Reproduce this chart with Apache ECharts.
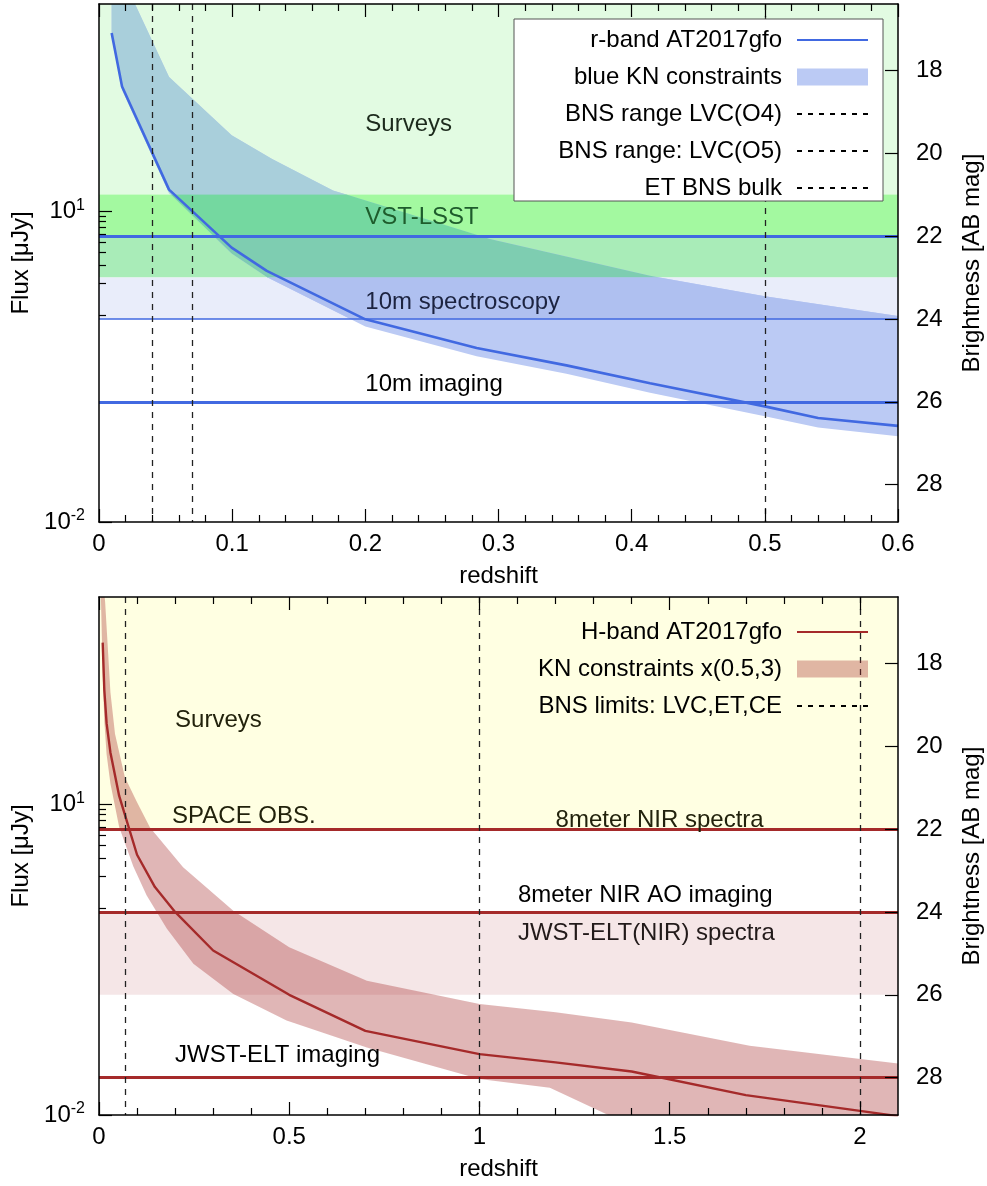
<!DOCTYPE html>
<html><head><meta charset="utf-8">
<script src="https://cdn.jsdelivr.net/npm/echarts@6/dist/echarts.min.js"></script>
<style>html,body{margin:0;padding:0;background:#fff}#c{width:987px;height:1186px}</style>
</head><body><div id="c"></div>
<script>
// ================= DATA =================
// shared axis data
const magRange = [16.4, 28.9];               // AB magnitude range of both panels (top -> bottom)
const logFluxRange = [-2, 3];                // log10(flux / uJy), same span
const magTicks = [18, 20, 22, 24, 26, 28];
const fluxLabelTicks = [0.01, 10];           // labelled flux ticks (uJy)
const fluxMinorTicks = [1, 2, 3, 4, 5, 6, 7, 8, 9];

// top panel
const topXRange = [0, 0.6];
const topXTicks = [0, 0.1, 0.2, 0.3, 0.4, 0.5, 0.6];
const topXMinor = [0.02, 0.04, 0.06, 0.08, 0.12, 0.14, 0.16, 0.18, 0.22, 0.24, 0.26, 0.28, 0.32, 0.34, 0.36, 0.38, 0.42, 0.44, 0.46, 0.48, 0.52, 0.54, 0.56, 0.58];
const rbandZ   = [0.0095, 0.0173, 0.0526, 0.0996, 0.126, 0.2, 0.2836, 0.351, 0.4138, 0.5, 0.54, 0.6];
const rbandMag = [17.1, 18.39, 20.88, 22.28, 22.84, 24.01, 24.70, 25.12, 25.55, 26.11, 26.39, 26.58];
const blueKnUpperZ   = [0.0095, 0.0173, 0.0526, 0.0996, 0.13, 0.1757, 0.2936, 0.4138, 0.5, 0.6];
const blueKnUpperMag = [14.4, 15.73, 18.16, 19.57, 20.14, 20.9, 22.07, 22.96, 23.45, 23.93];
const blueKnLowerZ   = [0.0095, 0.0173, 0.0526, 0.0996, 0.126, 0.2, 0.2836, 0.351, 0.4138, 0.5, 0.54, 0.6];
const blueKnLowerMag = [17.17, 18.47, 20.96, 22.42, 22.99, 24.18, 24.9, 25.32, 25.78, 26.35, 26.62, 26.83];
const topBnsNames = ['BNS range LVC(O4)', 'BNS range: LVC(O5)', 'ET BNS bulk'];
const topBnsZ = [0.04, 0.07, 0.5];
const topLimitMags = [22, 24, 26];
const topBandFrom = [16.4, 21, 22, 23];
const topBandTo   = [21, 22, 23, 24];
const topLabelText = ['Surveys', 'VST-LSST', '10m spectroscopy', '10m imaging'];
const topLabelZ    = [0.2, 0.2, 0.2, 0.2];
const topLabelMag  = [19.31, 21.55, 23.61, 25.58];

// bottom panel
const botXRange = [0, 2.1];
const botXTicks = [0, 0.5, 1, 1.5, 2];
const botXMinor = [0.1, 0.2, 0.3, 0.4, 0.6, 0.7, 0.8, 0.9, 1.1, 1.2, 1.3, 1.4, 1.6, 1.7, 1.8, 1.9];
const hbandZ   = [0.0097, 0.014, 0.02, 0.03, 0.053, 0.1, 0.147, 0.2, 0.3, 0.5, 0.7, 1.0, 1.2, 1.4, 1.7, 2.0, 2.1];
const hbandMag = [17.5, 18.65, 19.45, 20.15, 21.2, 22.62, 23.4, 24.0, 24.93, 26.0, 26.87, 27.43, 27.63, 27.85, 28.42, 28.8, 28.93];
const knUpperZ   = [0.005, 0.016, 0.03, 0.042, 0.068, 0.1, 0.134, 0.221, 0.353, 0.5, 0.704, 1.0, 1.2, 1.4, 1.71, 2.1];
const knUpperMag = [15.5, 16.5, 18.7, 19.7, 20.75, 21.35, 21.96, 22.92, 23.97, 24.85, 25.66, 26.22, 26.42, 26.67, 27.23, 27.66];
const knLowerZ   = [0.005, 0.0097, 0.014, 0.02, 0.03, 0.053, 0.09, 0.125, 0.178, 0.248, 0.353, 0.493, 0.704, 1.0, 1.185, 1.35, 1.7, 2.1];
const knLowerMag = [16.4, 18.25, 19.4, 20.2, 20.9, 21.95, 22.9, 23.6, 24.4, 25.25, 25.98, 26.62, 27.27, 28.03, 28.24, 28.95, 29.3, 29.6];
const botBnsName = 'BNS limits: LVC,ET,CE';
const botBnsZ = [0.07, 1, 2];
const botLimitMags = [22, 24, 28];
const botBandFrom = [16.4, 24];
const botBandTo   = [22, 26];
const botLabelText = ['Surveys', 'SPACE OBS.', '8meter NIR spectra', '8meter NIR AO imaging', 'JWST-ELT(NIR) spectra', 'JWST-ELT imaging'];
const botLabelZ    = [0.2, 0.192, 1.2, 1.101, 1.101, 0.2];
const botLabelMag  = [19.38, 21.69, 21.79, 23.6, 24.52, 27.47];

// ================= STYLE / BUILD =================
const FONT = '"Liberation Sans", Arial, Helvetica, sans-serif';
const FS = 24;

function zip(a, b) { return a.map((v, i) => [v, b[i]]); }

// clip a pixel polygon to the horizontal strip y0 <= y <= y1
function clipStrip(pts, y0, y1) {
  function clipEdge(poly, inside, inter) {
    const out = [];
    for (let i = 0; i < poly.length; i++) {
      const a = poly[i], b = poly[(i + 1) % poly.length];
      const ia = inside(a), ib = inside(b);
      if (ia) out.push(a);
      if (ia !== ib) out.push(inter(a, b));
    }
    return out;
  }
  const cut = y => (a, b) => { const t = (y - a[1]) / (b[1] - a[1]); return [a[0] + t * (b[0] - a[0]), y]; };
  let r = clipEdge(pts, p => p[1] >= y0, cut(y0));
  if (r.length) r = clipEdge(r, p => p[1] <= y1, cut(y1));
  return r;
}

function panel(p) {
  const gi = p.gi, xb = gi * 4, yb = gi * 3;
  const axisLine = { show: true, onZero: false, lineStyle: { color: '#000', width: 1.5 } };
  const noLine = { show: false, onZero: false };
  const tickStyle = { color: '#000', width: 1.2 };
  const AZ = 10;
  const xAxes = [
    { gridIndex: gi, z: AZ, type: 'value', min: p.xRange[0], max: p.xRange[1], position: 'bottom',
      axisLine, splitLine: { show: false },
      axisTick: { inside: true, length: 13, customValues: p.xTicks, lineStyle: tickStyle },
      axisLabel: { customValues: p.xTicks, fontSize: FS, fontFamily: FONT, color: '#000', margin: 10, formatter: v => String(v) },
      name: 'redshift', nameLocation: 'middle', nameGap: 42,
      nameTextStyle: { fontSize: FS, fontFamily: FONT, color: '#000' } },
    { gridIndex: gi, z: AZ, type: 'value', min: p.xRange[0], max: p.xRange[1], position: 'bottom',
      axisLine: noLine, splitLine: { show: false }, axisLabel: { show: false },
      axisTick: { inside: true, length: 7, customValues: p.xMinor, lineStyle: tickStyle } },
    { gridIndex: gi, z: AZ, type: 'value', min: p.xRange[0], max: p.xRange[1], position: 'top',
      axisLine, splitLine: { show: false }, axisLabel: { show: false },
      axisTick: { inside: true, length: 13, customValues: p.xTicks, lineStyle: tickStyle } },
    { gridIndex: gi, z: AZ, type: 'value', min: p.xRange[0], max: p.xRange[1], position: 'top',
      axisLine: noLine, splitLine: { show: false }, axisLabel: { show: false },
      axisTick: { inside: true, length: 7, customValues: p.xMinor, lineStyle: tickStyle } }
  ];
  const yAxes = [
    { gridIndex: gi, z: AZ, type: 'value', inverse: true, min: magRange[0], max: magRange[1], position: 'right',
      axisLine, splitLine: { show: false },
      axisTick: { inside: true, length: 13, customValues: magTicks, lineStyle: tickStyle },
      axisLabel: { customValues: magTicks, fontSize: FS, fontFamily: FONT, color: '#000', margin: 18 },
      name: 'Brightness [AB mag]', nameLocation: 'middle', nameRotate: 90, nameGap: 62,
      nameTextStyle: { fontSize: FS, fontFamily: FONT, color: '#000' } },
    { gridIndex: gi, z: AZ, type: 'value', min: logFluxRange[0], max: logFluxRange[1], position: 'left',
      axisLine, splitLine: { show: false },
      axisTick: { inside: true, length: 13, customValues: fluxLabelTicks.map(Math.log10), lineStyle: tickStyle },
      axisLabel: { customValues: fluxLabelTicks.map(Math.log10), margin: 14, color: '#000',
        formatter: v => '{b|10}{s|' + Math.round(v) + '}',
        rich: { b: { fontSize: FS, fontFamily: FONT, color: '#000', lineHeight: 28 },
                s: { fontSize: 16, fontFamily: FONT, color: '#000', lineHeight: 16, verticalAlign: 'top' } } },
      name: 'Flux [\u03bcJy]', nameLocation: 'middle', nameRotate: 90, nameGap: 58,
      nameTextStyle: { fontSize: FS, fontFamily: FONT, color: '#000' } },
    { gridIndex: gi, z: AZ, type: 'value', min: logFluxRange[0], max: logFluxRange[1], position: 'left',
      axisLine: noLine, splitLine: { show: false }, axisLabel: { show: false },
      axisTick: { inside: true, length: 7, customValues: fluxMinorTicks.map(Math.log10), lineStyle: tickStyle } }
  ];
  const X = xb, Y = yb;
  const series = [];
  // background bands
  series.push({ type: 'line', name: '_bands' + gi, xAxisIndex: X, yAxisIndex: Y, data: [], silent: true, z: 1,
    markArea: { silent: true,
      data: p.bandFrom.map((f, i) => [{ yAxis: f, itemStyle: { color: p.bandColors[i], opacity: 1 } }, { yAxis: p.bandTo[i] }]) } });
  // KN band polygon (tinted per background band where it overlaps)
  series.push({ type: 'custom', name: p.bandName, xAxisIndex: X, yAxisIndex: Y, coordinateSystem: 'cartesian2d',
    clip: true, silent: true, z: 2, itemStyle: { color: p.knColor },
    data: [[p.upZ[0], p.loMag[0]]],
    renderItem: (params, api) => {
      const pts = [];
      for (let i = 0; i < p.upZ.length; i++) pts.push(api.coord([p.upZ[i], p.upMag[i]]));
      for (let i = p.loZ.length - 1; i >= 0; i--) pts.push(api.coord([p.loZ[i], p.loMag[i]]));
      const children = [{ type: 'polygon', shape: { points: pts }, style: { fill: p.knColor } }];
      if (p.knOver) {
        p.bandFrom.forEach((f, i) => {
          if (!p.knOver[i]) return;
          const ya = api.coord([0, f])[1], yb2 = api.coord([0, p.bandTo[i]])[1];
          const sub = clipStrip(pts, Math.min(ya, yb2), Math.max(ya, yb2));
          if (sub.length > 2) children.push({ type: 'polygon', shape: { points: sub }, style: { fill: p.knOver[i] } });
        });
      }
      return { type: 'group', children };
    } });
  // horizontal limits
  series.push({ type: 'line', name: '_limits' + gi, xAxisIndex: X, yAxisIndex: Y, data: [], silent: true, z: 3,
    markLine: { silent: true, symbol: ['none', 'none'], label: { show: false }, emphasis: { disabled: true },
      data: p.limitMags.map((m, i) => ({ yAxis: m, lineStyle: { color: p.color, width: p.limitWidths[i], type: 'solid' } })) } });
  // curve
  series.push({ type: 'line', name: p.curveName, xAxisIndex: X, yAxisIndex: Y, data: zip(p.curveZ, p.curveMag),
    symbol: 'none', showSymbol: false, z: 4, lineStyle: { color: p.color, width: p.curveWidth }, itemStyle: { color: p.color } });
  // dashed BNS lines
  p.bns.forEach((b) => {
    series.push({ type: 'line', name: b.name, xAxisIndex: X, yAxisIndex: Y, data: [], symbol: 'none', z: 5,
      lineStyle: { color: '#000', width: 1, type: [5, 6] }, itemStyle: { color: '#000' },
      markLine: { silent: true, symbol: ['none', 'none'], label: { show: false }, emphasis: { disabled: true },
        lineStyle: { color: '#222', width: 1.3, type: [6, 6] },
        data: b.z.map(z => ({ xAxis: z })) } });
  });
  // annotations (text anchored in data coordinates)
  series.push({ type: 'custom', name: '_labels' + gi, xAxisIndex: X, yAxisIndex: Y, coordinateSystem: 'cartesian2d',
    silent: true, z: 6,
    data: p.labelText.map((t, i) => [p.labelZ[i], p.labelMag[i], i]),
    renderItem: (params, api) => {
      const i = api.value(2);
      const c = api.coord([api.value(0), api.value(1)]);
      return { type: 'text', x: c[0], y: c[1],
        style: { text: p.labelText[i], fill: p.labelColors[i], font: FS + 'px ' + FONT, align: 'left', verticalAlign: 'middle' } };
    } });
  return { xAxes, yAxes, series };
}

const P0 = panel({ gi: 0, xRange: topXRange, xTicks: topXTicks, xMinor: topXMinor,
  bandFrom: topBandFrom, bandTo: topBandTo, bandColors: ['#e2fbe2', '#a3f9a0', '#a9ecb8', '#e9edfa'],
  bandName: 'blue KN constraints', knColor: '#bbcaf4', knOver: ['#a9cfdb', '#74d8a0', '#7ecdb1', '#afc0f0'],
  upZ: blueKnUpperZ, upMag: blueKnUpperMag, loZ: blueKnLowerZ, loMag: blueKnLowerMag,
  limitMags: topLimitMags, limitWidths: [3, 1.5, 3], color: '#4169e1',
  curveName: 'r-band AT2017gfo', curveZ: rbandZ, curveMag: rbandMag, curveWidth: 2.6,
  bns: topBnsNames.map((n, i) => ({ name: n, z: [topBnsZ[i]] })),
  labelText: topLabelText, labelZ: topLabelZ, labelMag: topLabelMag,
  labelColors: ['#1c2a1c', '#1e5c2c', '#1c2340', '#000'] });

const P1 = panel({ gi: 1, xRange: botXRange, xTicks: botXTicks, xMinor: botXMinor,
  bandFrom: botBandFrom, bandTo: botBandTo, bandColors: ['#ffffe2', '#f5e6e7'],
  bandName: 'KN constraints x(0.5,3)', knColor: 'rgba(165,42,42,0.34)', knOver: null,
  upZ: knUpperZ, upMag: knUpperMag, loZ: knLowerZ, loMag: knLowerMag,
  limitMags: botLimitMags, limitWidths: [3, 3, 3], color: '#a52a2a',
  curveName: 'H-band AT2017gfo', curveZ: hbandZ, curveMag: hbandMag, curveWidth: 2.4,
  bns: [{ name: botBnsName, z: botBnsZ }],
  labelText: botLabelText, labelZ: botLabelZ, labelMag: botLabelMag,
  labelColors: ['#22220c', '#22220c', '#22220c', '#000', '#221a1a', '#000'] });

const legendBase = { orient: 'vertical', align: 'right', right: 118, padding: 0, itemWidth: 71, itemHeight: 17,
  itemGap: 9, z: 60, selectedMode: false,
  textStyle: { fontSize: FS, fontFamily: FONT, color: '#000', lineHeight: 28, padding: [0, 10, 0, 0] } };
const lineItem = name => ({ name, itemStyle: { opacity: 0 } });

const option = {
  animation: false,
  backgroundColor: '#fff',
  grid: [
    { left: 99, right: 89, top: 4, height: 518, containLabel: false, outerBoundsMode: 'none' },
    { left: 99, right: 89, top: 597, height: 518, containLabel: false, outerBoundsMode: 'none' }
  ],
  xAxis: P0.xAxes.concat(P1.xAxes),
  yAxis: P0.yAxes.concat(P1.yAxes),
  series: P0.series.concat(P1.series),
  legend: [
    Object.assign({}, legendBase, { top: 26,
      data: [lineItem('r-band AT2017gfo'), { name: 'blue KN constraints', icon: 'rect' }].concat(topBnsNames.map(lineItem)) }),
    Object.assign({}, legendBase, { top: 618,
      data: [lineItem('H-band AT2017gfo'), { name: 'KN constraints x(0.5,3)', icon: 'rect' }, lineItem(botBnsName)] })
  ],
  graphic: [
    { type: 'rect', z: 50, shape: { x: 514, y: 19, width: 369, height: 182 },
      style: { fill: '#fff', stroke: '#555', lineWidth: 1 } }
  ]
};

const chart = echarts.init(document.getElementById('c'), null, { renderer: 'canvas' });
chart.setOption(option);
</script>
</body></html>
